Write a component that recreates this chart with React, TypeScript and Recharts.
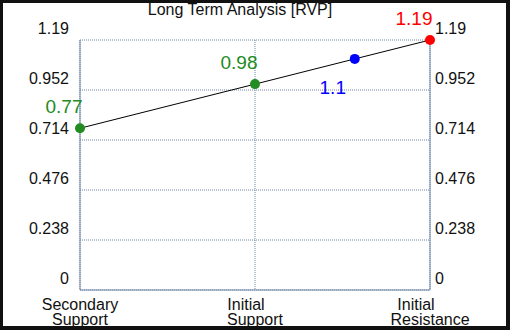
import { LineChart, Line, XAxis, YAxis, CartesianGrid } from 'recharts';

// x-axis categories (numeric positions 0, 1, 2)
const categoryLabels = [
  ['Secondary', 'Support'],
  ['Initial', 'Support'],
  ['Initial', 'Resistance'],
];
const categoryTicks = [0, 1, 2];

// the four plotted levels
const pointX = [0, 1, 1.57, 2];
const pointValues = [0.77, 0.98, 1.1, 1.19];
const pointText = ['0.77', '0.98', '1.1', '1.19'];

const yTicks = [0, 0.238, 0.476, 0.714, 0.952, 1.19];

const data = pointX.map((x, i) => ({ x, value: pointValues[i], label: pointText[i] }));

// styling
const FONT = '"Liberation Sans", Arial, sans-serif';
const AXIS_COLOR = '#6f87a8';
const pointColors = ['#228b22', '#228b22', '#0000ff', '#ff0000'];
const labelOffsets = [
  { dx: -16, dy: -15 },
  { dx: -16, dy: -15 },
  { dx: -22, dy: 35 },
  { dx: -16, dy: -15 },
];
const firstLineShift = [0, -9, -14];

const LeftTick = ({ x, y, payload }: any) => (
  <text x={x} y={y - 6} textAnchor="end" fontSize={16} fontFamily={FONT} fill="#111">
    {payload.value}
  </text>
);

const RightTick = ({ x, y, payload }: any) => (
  <text x={x} y={y - 6} textAnchor="start" fontSize={16} fontFamily={FONT} fill="#111">
    {payload.value}
  </text>
);

const BottomTick = ({ x, y, payload }: any) => {
  const i = categoryTicks.indexOf(payload.value);
  const lines = categoryLabels[i] || [];
  return (
    <text textAnchor="middle" fontSize={16} fontFamily={FONT} fill="#111">
      <tspan x={x + firstLineShift[i]} y={y + 20}>{lines[0]}</tspan>
      <tspan x={x} y={y + 35}>{lines[1]}</tspan>
    </text>
  );
};

const PointDot = ({ cx, cy, index, payload }: any) => {
  const color = pointColors[index];
  const off = labelOffsets[index];
  return (
    <g key={`dot-${index}`}>
      <circle cx={cx} cy={cy} r={5} fill={color} stroke="none" />
      <text
        x={cx + off.dx}
        y={cy + off.dy}
        textAnchor="middle"
        fontSize={19}
        fontFamily={FONT}
        fill={color}
      >
        {payload.label}
      </text>
    </g>
  );
};

const App = () => {
  return (
    <div style={{ position: 'absolute', left: 0, top: 0, width: 510, height: 330, background: '#fff' }}>
      <LineChart
        width={510}
        height={330}
        data={data}
        margin={{ top: 40, right: 0, bottom: 0, left: 0 }}
      >
        <CartesianGrid yAxisId="left" stroke={AXIS_COLOR} strokeDasharray="1 1" />
        <XAxis
          dataKey="x"
          type="number"
          domain={[0, 2]}
          ticks={categoryTicks}
          height={40}
          axisLine={{ stroke: AXIS_COLOR }}
          tickLine={false}
          tickSize={0}
          tickMargin={0}
          tick={<BottomTick />}
          interval={0}
        />
        <YAxis
          yAxisId="left"
          orientation="left"
          type="number"
          width={80}
          domain={[0, 1.19]}
          ticks={yTicks}
          axisLine={{ stroke: AXIS_COLOR }}
          tickLine={false}
          tickSize={0}
          tickMargin={11}
          tick={<LeftTick />}
          interval={0}
        />
        <YAxis
          yAxisId="right"
          orientation="right"
          type="number"
          width={80}
          domain={[0, 1.19]}
          ticks={yTicks}
          axisLine={{ stroke: AXIS_COLOR }}
          tickLine={false}
          tickSize={0}
          tickMargin={5}
          tick={<RightTick />}
          interval={0}
        />
        <Line
          yAxisId="right"
          type="linear"
          dataKey="value"
          stroke="none"
          dot={false}
          activeDot={false}
          isAnimationActive={false}
        />
        <Line
          yAxisId="left"
          type="linear"
          dataKey="value"
          stroke="#000"
          strokeWidth={1}
          dot={(p: any) => <PointDot {...p} />}
          activeDot={false}
          isAnimationActive={false}
        />
      </LineChart>
      <svg width={510} height={330} style={{ position: 'absolute', left: 0, top: 0, pointerEvents: 'none' }}>
        <text x={240} y={15} textAnchor="middle" fontSize={16} fontFamily={FONT} fill="#111">
          Long Term Analysis [RVP]
        </text>
      </svg>
      <div
        style={{
          position: 'absolute',
          left: 0,
          top: 0,
          width: 510,
          height: 330,
          boxSizing: 'border-box',
          borderStyle: 'solid',
          borderColor: '#111',
          borderWidth: '3px 4px 4px 3px',
          pointerEvents: 'none',
        }}
      />
    </div>
  );
};

export default App;
